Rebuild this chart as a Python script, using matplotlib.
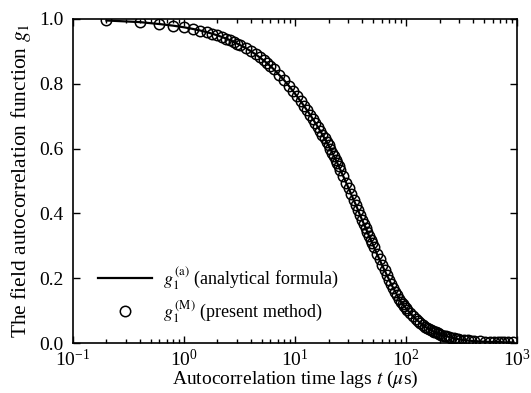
import matplotlib
matplotlib.use("Agg")
import matplotlib.pyplot as plt
import numpy as np
from matplotlib.ticker import LogLocator, FixedLocator

plt.rcParams['font.family'] = ['Liberation Serif', 'DejaVu Serif']
plt.rcParams['mathtext.fontset'] = 'stix'

# lag times (us) and g1 values
t = [0.2, 0.4, 0.6, 0.8, 1.0, 1.2, 1.4, 1.6, 1.8, 2.0, 2.2, 2.4, 2.6, 2.8,
     3.0, 3.2, 3.6, 4.0, 4.4, 4.8, 5.2, 5.6, 6.0, 6.4, 7.2, 8.0, 8.8, 9.6,
     10.4, 11.2, 12.0, 12.8, 13.6, 14.4, 15.2, 16.0, 16.8, 17.6, 18.4, 19.2,
     20.0, 20.8, 21.6, 22.4, 23.2, 24.0, 24.8, 25.6, 27.2, 28.8, 30.4, 32.0,
     33.6, 35.2, 36.8, 38.4, 40.0, 41.6, 43.2, 44.8, 46.4, 48.0, 49.6, 51.2,
     54.4, 57.6, 60.8, 64.0, 67.2, 70.4, 73.6, 76.8, 80.0, 83.2, 86.4, 89.6,
     92.8, 96.0, 99.2, 102.4, 108.8, 115.2, 121.6, 128.0, 134.4, 140.8, 147.2,
     153.6, 160.0, 166.4, 172.8, 179.2, 185.6, 192.0, 198.4, 204.8, 217.6,
     230.4, 243.2, 256.0, 268.8, 281.6, 294.4, 307.2, 332.8, 358.4, 384.0,
     409.6, 460.8, 512.0, 563.2, 614.4, 665.6, 716.8, 768.0, 819.2, 921.6]
g1 = [0.995, 0.990, 0.984, 0.979, 0.974, 0.969, 0.964, 0.959, 0.954, 0.949,
      0.944, 0.939, 0.934, 0.929, 0.924, 0.919, 0.910, 0.900, 0.891, 0.881,
      0.872, 0.863, 0.854, 0.845, 0.827, 0.810, 0.793, 0.777, 0.761, 0.746,
      0.732, 0.718, 0.705, 0.692, 0.679, 0.667, 0.655, 0.643, 0.632, 0.621,
      0.610, 0.599, 0.587, 0.576, 0.566, 0.555, 0.545, 0.534, 0.514, 0.495,
      0.477, 0.459, 0.442, 0.427, 0.411, 0.395, 0.381, 0.368, 0.355, 0.342,
      0.330, 0.319, 0.308, 0.297, 0.276, 0.258, 0.240, 0.224, 0.209, 0.195,
      0.181, 0.169, 0.158, 0.147, 0.137, 0.128, 0.121, 0.115, 0.108, 0.103,
      0.092, 0.083, 0.075, 0.068, 0.062, 0.056, 0.051, 0.047, 0.044, 0.041,
      0.037, 0.035, 0.033, 0.030, 0.028, 0.026, 0.023, 0.021, 0.019, 0.017,
      0.015, 0.014, 0.012, 0.011, 0.009, 0.008, 0.007, 0.006, 0.005, 0.004,
      0.004, 0.003, 0.003, 0.003, 0.002, 0.002, 0.002]
yticks = [0.0, 0.2, 0.4, 0.6, 0.8, 1.0]

fig = plt.figure(figsize=(5.31, 3.93), dpi=100)
ax = fig.add_axes([0.1375, 0.127, 0.8365, 0.825])

ax.plot(t, g1, color='black', lw=1.6, zorder=2,
        label=r'$g_1^{\,\mathrm{(a)}}$ (analytical formula)')
ax.plot(t, g1, 'o', mfc='none', mec='black', ms=7.5, mew=1.1, zorder=3,
        label=r'$g_1^{\,\mathrm{(M)}}$ (present method)')

ax.set_xscale('log')
ax.set_xlim(0.1, 1000)
ax.set_ylim(0, 1.0)
ax.yaxis.set_major_locator(FixedLocator(yticks))
ax.set_yticklabels(['%.1f' % v for v in yticks])
ax.xaxis.set_minor_locator(LogLocator(subs=np.arange(2, 10)))

ax.tick_params(which='both', direction='in', top=True, right=True,
               labelsize=14, width=1)
ax.tick_params(which='major', length=5)
ax.tick_params(which='minor', length=3)
ax.tick_params(axis='y', pad=7)
ax.tick_params(axis='x', pad=4)
for s in ax.spines.values():
    s.set_linewidth(1.2)

ax.set_xlabel(r'Autocorrelation time lags $t$ ($\mu$s)', fontsize=14, labelpad=-1)
ax.set_ylabel(r'The field autocorrelation function $g_1$', fontsize=15.5, labelpad=4)

ax.legend(loc='upper left', bbox_to_anchor=(0.02, 0.29), frameon=False,
          fontsize=13, handlelength=3.0, labelspacing=0.35, handletextpad=0.6)

fig.savefig('out.png', dpi=100)
